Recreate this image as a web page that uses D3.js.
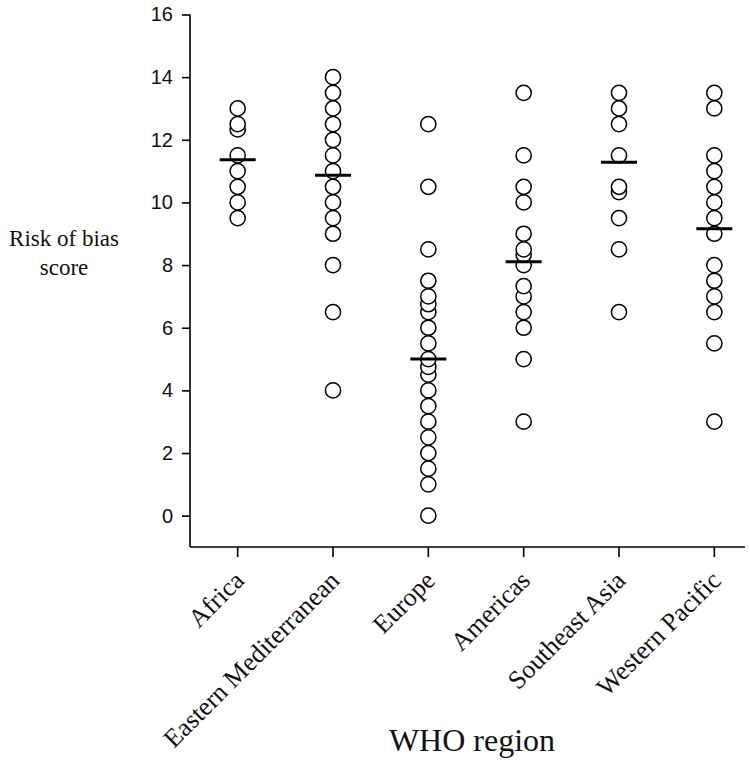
<!DOCTYPE html>
<html>
<head>
<meta charset="utf-8">
<script src="https://cdn.jsdelivr.net/npm/d3@7"></script>
<style>
  html, body { margin: 0; padding: 0; background: #fff; }
  svg { display: block; }
</style>
</head>
<body>
<svg id="chart" width="750" height="764"></svg>
<script>
// ---- Data ----
const regions = ["Africa", "Eastern Mediterranean", "Europe", "Americas", "Southeast Asia", "Western Pacific"];

const africa = [13, 12.5, 12.33, 11.5, 11, 10.5, 10, 9.5];
const easternMediterranean = [14, 13.5, 13, 12.5, 12, 11.5, 11, 10.5, 10, 9.5, 9, 8, 6.5, 4];
const europe = [12.5, 10.5, 8.5, 7.5, 7, 6.75, 6.5, 6, 5.5, 5, 4.75, 4.5, 4, 3.5, 3, 2.5, 2, 1.5, 1, 0];
const americas = [13.5, 11.5, 10.5, 10, 9, 8.5, 8.33, 8, 7.33, 7, 6.5, 6, 5, 3];
const southeastAsia = [13.5, 13, 12.5, 11.5, 10.5, 10.33, 9.5, 8.5, 6.5];
const westernPacific = [13.5, 13, 11.5, 11, 10.5, 10, 9.5, 9, 8, 7.5, 7, 6.5, 5.5, 3];

const centralLines = [11.36, 10.87, 5.0, 8.11, 11.28, 9.16];

const yTicks = [0, 2, 4, 6, 8, 10, 12, 14, 16];

const seriesValues = [africa, easternMediterranean, europe, americas, southeastAsia, westernPacific];

// ---- Chart ----
const svg = d3.select("#chart");
const serif = "'Liberation Serif', 'DejaVu Serif', serif";
const sans = "'Liberation Sans', Arial, sans-serif";

const x = d3.scaleBand().domain(regions).range([190, 762]).paddingInner(0).paddingOuter(0);
const y = d3.scaleLinear().domain([-1, 16]).range([547, 14.5]);

// y axis
const yAxis = d3.axisLeft(y).tickValues(yTicks).tickSize(8).tickPadding(9).tickSizeOuter(0);
const gy = svg.append("g").attr("transform", "translate(190,0)").call(yAxis);
gy.select(".domain").remove();
gy.append("line").attr("x1", 0).attr("x2", 0).attr("y1", y(16)).attr("y2", y(-1))
  .attr("stroke", "#000").attr("stroke-width", 1.6);
gy.selectAll(".tick line").attr("stroke", "#000").attr("stroke-width", 1.6);
gy.selectAll(".tick text").attr("font-family", sans).attr("font-size", 20).attr("fill", "#111");

// x axis
const xAxis = d3.axisBottom(x).tickSize(10).tickFormat("");
const gx = svg.append("g").attr("transform", "translate(0,547)").call(xAxis);
gx.select(".domain").remove();
gx.append("line").attr("x1", 190).attr("x2", 745).attr("y1", 0).attr("y2", 0)
  .attr("stroke", "#000").attr("stroke-width", 1.6);
gx.selectAll(".tick line").attr("stroke", "#000").attr("stroke-width", 1.6);

// rotated category labels
svg.append("g").selectAll("text").data(regions).join("text")
  .attr("transform", d => `translate(${x(d) + x.bandwidth() / 2 + 8},${582}) rotate(-45)`)
  .attr("text-anchor", "end")
  .attr("font-family", serif)
  .attr("font-size", 26)
  .attr("fill", "#111")
  .text(d => d);

// points
const pts = [];
regions.forEach((r, i) => {
  seriesValues[i].slice().sort((a, b) => a - b).forEach(v => pts.push({ r, v }));
});
svg.append("g").selectAll("circle").data(pts).join("circle")
  .attr("cx", d => x(d.r) + x.bandwidth() / 2)
  .attr("cy", d => y(d.v))
  .attr("r", 7.6)
  .attr("fill", "#fff")
  .attr("stroke", "#000")
  .attr("stroke-width", 1.5);

// central lines
svg.append("g").selectAll("line").data(regions).join("line")
  .attr("x1", (d) => x(d) + x.bandwidth() / 2 - 18)
  .attr("x2", (d) => x(d) + x.bandwidth() / 2 + 18)
  .attr("y1", (d, i) => y(centralLines[i]))
  .attr("y2", (d, i) => y(centralLines[i]))
  .attr("stroke", "#000")
  .attr("stroke-width", 3);

// axis titles
const yt = svg.append("text").attr("font-family", serif).attr("font-size", 23)
  .attr("fill", "#111").attr("text-anchor", "middle");
yt.append("tspan").attr("x", 64).attr("y", 246).text("Risk of bias");
yt.append("tspan").attr("x", 64).attr("y", 275).text("score");

svg.append("text").attr("x", 472).attr("y", 751)
  .attr("text-anchor", "middle")
  .attr("font-family", serif).attr("font-size", 32).attr("fill", "#111")
  .text("WHO region");
</script>
</body>
</html>
